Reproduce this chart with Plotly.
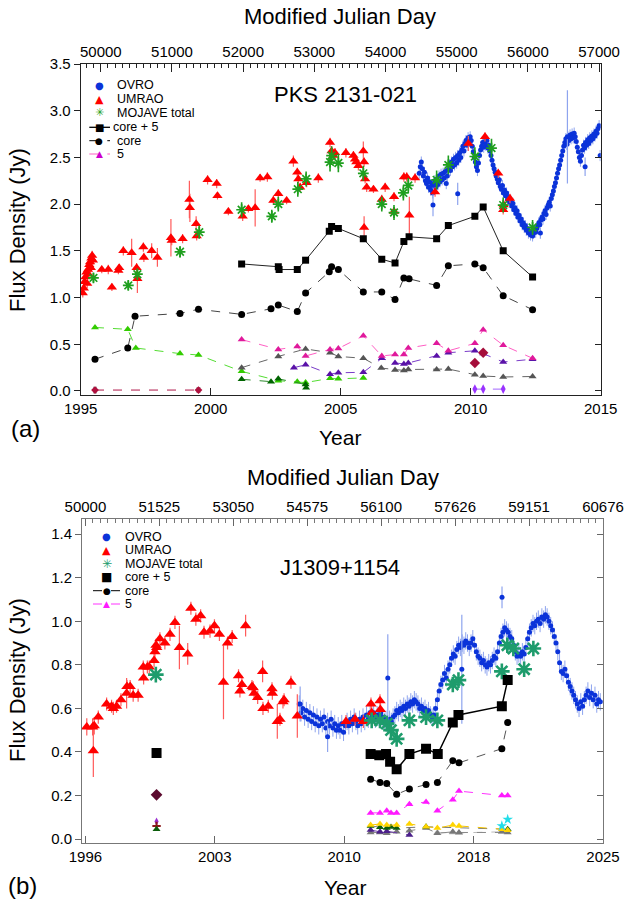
import plotly.graph_objects as go

W, H = 626, 902


def mjd_to_year(m):
    return 1995.773 + (m - 50000.0) / 365.25


def year_to_mjd(y):
    return 50000.0 + (y - 1995.773) * 365.25


# ======================= Panel (a): PKS 2131-021 =======================
a_ovro_year = [2008.02, 2008.06, 2008.10, 2008.14, 2008.18, 2008.22, 2008.26, 2008.30, 2008.34, 2008.38,
               2008.42, 2008.46, 2008.50, 2008.54, 2008.58, 2008.62, 2008.66, 2008.70, 2008.74, 2008.78,
               2008.82, 2008.86, 2008.90, 2008.94, 2008.98, 2009.02, 2009.06, 2009.10, 2009.14, 2009.18,
               2009.22, 2009.26, 2009.30, 2009.34, 2009.38, 2009.42, 2009.46, 2009.50, 2009.54, 2009.58,
               2009.62, 2009.66, 2009.70, 2009.74, 2009.78, 2009.82, 2009.86, 2009.90, 2009.94, 2009.98,
               2010.02, 2010.06, 2010.10, 2010.14, 2010.18, 2010.22, 2010.26, 2010.30, 2010.34, 2010.38,
               2010.42, 2010.46, 2010.50, 2010.54, 2010.58, 2010.62, 2010.66, 2010.70, 2010.74, 2010.78,
               2010.82, 2010.86, 2010.90, 2010.94, 2010.98, 2011.02, 2011.06, 2011.10, 2011.14, 2011.18,
               2011.22, 2011.26, 2011.30, 2011.34, 2011.38, 2011.42, 2011.46, 2011.50, 2011.54, 2011.58,
               2011.62, 2011.66, 2011.70, 2011.74, 2011.78, 2011.82, 2011.86, 2011.90, 2011.94, 2011.98,
               2012.02, 2012.06, 2012.10, 2012.14, 2012.18, 2012.22, 2012.26, 2012.30, 2012.34, 2012.38,
               2012.42, 2012.46, 2012.50, 2012.54, 2012.58, 2012.62, 2012.66, 2012.70, 2012.74, 2012.78,
               2012.82, 2012.86, 2012.90, 2012.94, 2012.98, 2013.02, 2013.06, 2013.10, 2013.14, 2013.18,
               2013.22, 2013.26, 2013.30, 2013.34, 2013.38, 2013.42, 2013.46, 2013.50, 2013.54, 2013.58,
               2013.62, 2013.66, 2013.70, 2013.74, 2013.78, 2013.82, 2013.86, 2013.90, 2013.94, 2013.98,
               2014.02, 2014.06, 2014.10, 2014.14, 2014.18, 2014.22, 2014.26, 2014.30, 2014.34, 2014.38,
               2014.42, 2014.46, 2014.50, 2014.54, 2014.58, 2014.62, 2014.66, 2014.70, 2014.74, 2014.78,
               2014.82, 2014.86, 2014.90, 2014.94, 2014.98]
a_ovro_flux = [2.33, 2.40, 2.45, 2.38, 2.30, 2.34, 2.25, 2.22, 2.28, 2.18,
               2.24, 2.15, 2.20, 2.12, 2.22, 2.25, 2.18, 2.27, 2.21, 2.30,
               2.24, 2.32, 2.26, 2.33, 2.28, 2.35, 2.22, 2.30, 2.37, 2.42,
               2.36, 2.45, 2.40, 2.48, 2.42, 2.50, 2.44, 2.52, 2.47, 2.55,
               2.50, 2.58, 2.62, 2.57, 2.65, 2.68, 2.63, 2.71, 2.67, 2.72,
               2.68, 2.62, 2.56, 2.50, 2.45, 2.40, 2.36, 2.44, 2.52, 2.58,
               2.62, 2.66, 2.61, 2.67, 2.63, 2.68, 2.60, 2.63, 2.57, 2.52,
               2.47, 2.42, 2.38, 2.34, 2.30, 2.27, 2.23, 2.26, 2.19, 2.16,
               2.20, 2.12, 2.15, 2.09, 2.12, 2.05, 2.08, 2.02, 2.04, 1.98,
               2.01, 1.94, 1.96, 1.90, 1.93, 1.86, 1.88, 1.82, 1.84, 1.78,
               1.80, 1.75, 1.77, 1.72, 1.74, 1.69, 1.71, 1.67, 1.70, 1.66,
               1.69, 1.72, 1.70, 1.74, 1.77, 1.80, 1.78, 1.83, 1.86, 1.84,
               1.90, 1.93, 1.89, 1.96, 1.99, 2.02, 1.98, 2.06, 2.10, 2.14,
               2.19, 2.23, 2.28, 2.33, 2.38, 2.42, 2.47, 2.52, 2.57, 2.62,
               2.66, 2.70, 2.64, 2.72, 2.68, 2.74, 2.70, 2.75, 2.71, 2.76,
               2.72, 2.67, 2.61, 2.56, 2.50, 2.46, 2.52, 2.58, 2.63, 2.60,
               2.66, 2.63, 2.69, 2.65, 2.71, 2.68, 2.73, 2.70, 2.75, 2.73,
               2.78, 2.76, 2.81, 2.84, 2.52]
a_ovro_out_year = [2008.55, 2009.50, 2012.68, 2013.72, 2014.40]
a_ovro_out_flux = [1.99, 2.11, 1.69, 2.72, 2.40]
a_ovro_out_err = [0.12, 0.12, 0.06, 0.50, 0.10]

a_umrao_year = [1995.08, 1995.12, 1995.15, 1995.18, 1995.22, 1995.25, 1995.28, 1995.30, 1995.33, 1995.36,
                1995.39, 1995.41, 1995.44, 1995.47, 1995.81, 1996.06, 1996.20, 1996.45, 1996.48, 1996.64,
                1996.96, 1997.15, 1997.18, 1997.41, 1997.43, 1997.73, 1997.95, 1998.47, 1998.50, 1998.92,
                1999.18, 1999.20, 1999.44, 1999.46, 1999.88, 2000.23, 2000.26, 2000.68, 2001.23, 2001.45,
                2001.71, 2001.90, 2002.18, 2002.41, 2002.60, 2002.92, 2003.18, 2003.33, 2003.37, 2003.44,
                2003.69, 2004.14, 2004.59, 2004.65, 2004.72, 2004.78, 2005.20, 2005.49, 2005.55, 2005.60,
                2005.68, 2005.87, 2005.90, 2005.94, 2006.00, 2006.26, 2006.58, 2006.71, 2005.90, 2007.05,
                2007.05, 2007.43, 2007.54, 2007.64, 2007.86, 2008.63, 2009.91, 2010.55, 2011.06, 2011.25,
                2011.27, 2011.51]
a_umrao_flux = [1.05, 1.10, 1.17, 1.22, 1.27, 1.15, 1.30, 1.25, 1.35, 1.38,
                1.32, 1.42, 1.45, 1.40, 1.30, 1.30, 1.11, 1.29, 1.32, 1.50,
                1.48, 1.32, 1.20, 1.54, 1.43, 1.50, 1.43, 1.64, 1.61, 1.63,
                2.05, 1.96, 1.79, 1.66, 2.26, 2.22, 2.09, 1.92, 1.87, 1.95,
                1.96, 2.28, 2.29, 2.04, 2.11, 2.04, 2.46, 2.34, 2.27, 2.18,
                2.23, 2.28, 2.66, 2.57, 2.52, 2.55, 2.55, 2.52, 2.48, 2.45,
                2.41, 2.57, 2.45, 2.27, 2.18, 2.16, 2.05, 2.18, 1.75, 2.08,
                1.92, 2.29, 2.29, 1.88, 2.28, 2.13, 2.65, 2.72, 2.33, 1.94,
                1.99, 2.06]
a_umrao_err = [0.05, 0.05, 0.06, 0.05, 0.05, 0.05, 0.05, 0.05, 0.05, 0.05,
               0.05, 0.05, 0.05, 0.05, 0.04, 0.05, 0.04, 0.04, 0.04, 0.05,
               0.15, 0.05, 0.15, 0.05, 0.05, 0.08, 0.10, 0.20, 0.05, 0.05,
               0.20, 0.15, 0.08, 0.05, 0.05, 0.05, 0.04, 0.04, 0.05, 0.04,
               0.20, 0.04, 0.05, 0.05, 0.05, 0.04, 0.06, 0.05, 0.05, 0.05,
               0.05, 0.05, 0.05, 0.05, 0.05, 0.05, 0.05, 0.05, 0.05, 0.05,
               0.05, 0.10, 0.05, 0.05, 0.05, 0.04, 0.05, 0.05, 0.12, 0.05,
               0.05, 0.05, 0.05, 0.20, 0.05, 0.05, 0.08, 0.05, 0.05, 0.05,
               0.05, 0.05]

a_mojave_year = [1995.49, 1996.83, 1997.18, 1998.82, 1999.56, 2001.19, 2002.35, 2002.60, 2003.35, 2003.67,
                 2004.59, 2004.65, 2004.91, 2005.87, 2006.58, 2007.05, 2007.41, 2007.60, 2008.69, 2009.14,
                 2010.16, 2010.80, 2011.25, 2012.38]
a_mojave_flux = [1.21, 1.13, 1.25, 1.49, 1.70, 1.94, 1.87, 2.00, 2.16, 2.27,
                 2.45, 2.52, 2.44, 2.33, 2.00, 1.91, 2.12, 2.20, 2.26, 2.42,
                 2.51, 2.60, 1.99, 1.75]
a_mojave_err = [0.05, 0.05, 0.06, 0.06, 0.07, 0.08, 0.07, 0.08, 0.08, 0.08,
                0.10, 0.10, 0.10, 0.08, 0.08, 0.08, 0.08, 0.08, 0.10, 0.10,
                0.10, 0.10, 0.08, 0.08]

a_core5_year = [2001.19, 2002.60, 2002.63, 2003.33, 2003.65, 2004.56, 2004.65, 2004.91, 2005.87, 2006.58,
                2007.09, 2007.43, 2007.63, 2008.69, 2009.14, 2010.16, 2010.48, 2011.25, 2012.38]
a_core5_flux = [1.36, 1.33, 1.30, 1.30, 1.40, 1.71, 1.76, 1.74, 1.63, 1.41,
                1.37, 1.60, 1.65, 1.63, 1.77, 1.87, 1.97, 1.50, 1.22]

a_core_year = [1995.55, 1996.81, 1997.09, 1998.82, 1999.53, 2001.19, 2002.32, 2002.60, 2003.33, 2003.65,
               2004.56, 2004.65, 2004.91, 2005.87, 2006.58, 2007.09, 2007.43, 2007.63, 2008.69, 2009.14,
               2010.16, 2010.48, 2011.25, 2012.38]
a_core_flux = [0.34, 0.46, 0.80, 0.83, 0.875, 0.82, 0.88, 0.92, 0.85, 1.05,
               1.275, 1.33, 1.30, 1.06, 1.06, 0.98, 1.21, 1.20, 1.13, 1.34,
               1.36, 1.32, 1.02, 0.87]

a_c5_year = [2001.19, 2002.60, 2003.33, 2003.65, 2004.59, 2004.91, 2005.87, 2006.58, 2007.09, 2007.43,
             2007.60, 2008.69, 2009.14, 2010.16, 2010.48, 2011.25, 2012.38]
a_c5_flux = [0.55, 0.445, 0.475, 0.375, 0.445, 0.455, 0.59, 0.375, 0.39, 0.39,
             0.46, 0.51, 0.43, 0.51, 0.655, 0.49, 0.35]

a_lime_year = [1995.55, 1996.81, 1997.12, 1998.82, 1999.53, 2001.19, 2002.60, 2003.33, 2003.65, 2004.59,
               2004.91, 2005.87]
a_lime_flux = [0.68, 0.66, 0.46, 0.40, 0.385, 0.21, 0.11, 0.10, 0.09, 0.135, 0.13, 0.14]

a_dkgreen_year = [2001.19, 2002.32, 2002.60, 2003.65, 2003.67]
a_dkgreen_flux = [0.125, 0.10, 0.13, 0.07, 0.035]

a_gray_year = [2001.19, 2002.60, 2003.65, 2004.59, 2004.91, 2005.87, 2006.56, 2007.09, 2007.43, 2007.60,
               2008.69, 2009.14, 2010.16, 2010.48, 2011.25, 2012.38]
a_gray_flux = [0.25, 0.37, 0.45, 0.41, 0.37, 0.35, 0.245, 0.225, 0.22, 0.23,
               0.23, 0.235, 0.175, 0.16, 0.15, 0.155]

a_purple_year = [2003.20, 2003.65, 2004.59, 2004.91, 2005.87, 2006.58, 2007.09, 2007.43, 2007.60, 2008.69,
                 2009.14, 2010.16, 2010.48, 2011.25, 2012.38]
a_purple_flux = [0.25, 0.28, 0.18, 0.195, 0.20, 0.35, 0.30, 0.29, 0.30, 0.375,
                 0.41, 0.43, 0.40, 0.31, 0.34]

a_crimson_year = [1995.55, 1999.53]
a_crimson_flux = [0.01, 0.01]
a_crimson_err = [0.03, 0.025]

a_dkred_year = [2010.16, 2010.48]
a_dkred_flux = [0.30, 0.41]

a_violet_year = [2010.16, 2010.48, 2011.25]
a_violet_flux = [0.02, 0.02, 0.02]

a_year_ticks = [1995, 2000, 2005, 2010, 2015]
a_mjd_ticks = [50000, 51000, 52000, 53000, 54000, 55000, 56000, 57000]
a_flux_ticks = [0.0, 0.5, 1.0, 1.5, 2.0, 2.5, 3.0, 3.5]

# ======================= Panel (b): J1309+1154 =======================
b_ovro_year = [2007.85, 2007.95, 2008.05, 2008.15, 2008.25, 2008.35, 2008.45, 2008.55, 2008.65, 2008.75,
               2008.85, 2008.95, 2009.05, 2009.15, 2009.25, 2009.35, 2009.45, 2009.55, 2009.65, 2009.75,
               2009.85, 2009.95, 2010.05, 2010.15, 2010.25, 2010.35, 2010.45, 2010.55, 2010.65, 2010.75,
               2010.85, 2010.95, 2011.05, 2011.15, 2011.25, 2011.35, 2011.45, 2011.55, 2011.65, 2011.75,
               2011.85, 2011.95, 2012.05, 2012.15, 2012.25, 2012.35, 2012.45, 2012.55, 2012.65, 2012.75,
               2012.85, 2012.95, 2013.05, 2013.15, 2013.25, 2013.35, 2013.45, 2013.55, 2013.65, 2013.75,
               2013.85, 2013.95, 2014.05, 2014.15, 2014.25, 2014.35, 2014.45, 2014.55, 2014.65, 2014.75,
               2014.85, 2014.95, 2015.05, 2015.15, 2015.25, 2015.35, 2015.45, 2015.55, 2015.65, 2015.75,
               2015.85, 2015.95, 2016.05, 2016.15, 2016.25, 2016.35, 2016.45, 2016.55, 2016.65, 2016.75,
               2016.85, 2016.95, 2017.05, 2017.15, 2017.25, 2017.35, 2017.45, 2017.55, 2017.65, 2017.75,
               2017.85, 2017.95, 2018.05, 2018.15, 2018.25, 2018.35, 2018.45, 2018.55, 2018.65, 2018.75,
               2018.85, 2018.95, 2019.05, 2019.15, 2019.25, 2019.35, 2019.45, 2019.55, 2019.65, 2019.75,
               2019.85, 2019.95, 2020.05, 2020.15, 2020.25, 2020.35, 2020.45, 2020.55, 2020.65, 2020.75,
               2020.85, 2020.95, 2021.05, 2021.15, 2021.25, 2021.35, 2021.45, 2021.55, 2021.65, 2021.75,
               2021.85, 2021.95, 2022.05, 2022.15, 2022.25, 2022.35, 2022.45, 2022.55, 2022.65, 2022.75,
               2022.85, 2022.95, 2023.05, 2023.15, 2023.25, 2023.35, 2023.45, 2023.55, 2023.65, 2023.75,
               2023.85, 2023.95, 2024.05, 2024.15, 2024.25, 2024.35, 2024.45, 2024.55, 2024.65, 2024.75,
               2024.85]
b_ovro_flux = [0.62, 0.58, 0.60, 0.56, 0.59, 0.55, 0.58, 0.54, 0.57, 0.53,
               0.56, 0.52, 0.55, 0.53, 0.56, 0.51, 0.54, 0.52, 0.55, 0.51,
               0.53, 0.50, 0.52, 0.50, 0.53, 0.49, 0.52, 0.54, 0.52, 0.55,
               0.53, 0.56, 0.54, 0.52, 0.55, 0.53, 0.56, 0.54, 0.57, 0.55,
               0.58, 0.56, 0.58, 0.55, 0.57, 0.56, 0.58, 0.56, 0.54, 0.55,
               0.53, 0.55, 0.54, 0.56, 0.57, 0.59, 0.58, 0.60, 0.59, 0.61,
               0.60, 0.62, 0.61, 0.63, 0.62, 0.64, 0.63, 0.62, 0.60, 0.61,
               0.59, 0.60, 0.58, 0.59, 0.57, 0.56, 0.57, 0.60, 0.64, 0.68,
               0.71, 0.73, 0.76, 0.74, 0.78, 0.80, 0.83, 0.85, 0.84, 0.87,
               0.89, 0.88, 0.90, 0.89, 0.91, 0.90, 0.88, 0.90, 0.92, 0.89,
               0.86, 0.84, 0.83, 0.81, 0.82, 0.80, 0.79, 0.81, 0.80, 0.82,
               0.84, 0.83, 0.86, 0.90, 0.93, 0.95, 0.97, 0.96, 0.95, 0.93,
               0.92, 0.89, 0.86, 0.84, 0.85, 0.84, 0.86, 0.85, 0.88, 0.92,
               0.95, 0.97, 0.99, 0.98, 1.00, 1.01, 0.99, 1.02, 1.01, 1.03,
               1.02, 1.00, 0.98, 0.96, 0.93, 0.90, 0.86, 0.81, 0.77, 0.76,
               0.78, 0.75, 0.72, 0.70, 0.68, 0.66, 0.64, 0.62, 0.60, 0.63,
               0.61, 0.64, 0.66, 0.68, 0.65, 0.67, 0.64, 0.66, 0.62, 0.64,
               0.63]
b_ovro_out_year = [2007.90, 2009.45, 2012.85, 2017.03, 2019.30]
b_ovro_out_flux = [0.62, 0.47, 0.74, 0.78, 1.11]
b_ovro_out_err = [0.08, 0.07, 0.20, 0.25, 0.05]

b_umrao_year = [1995.85, 1996.18, 1996.22, 1996.27, 1996.50, 1996.97, 1997.25, 1997.35, 1997.53, 1997.78,
                1998.10, 1998.12, 1998.30, 1998.47, 1998.75, 1999.04, 1999.06, 1999.27, 1999.38, 1999.65,
                1999.70, 1999.76, 1999.80, 1999.98, 2000.26, 2000.55, 2000.83, 2001.08, 2001.55, 2001.73,
                2002.01, 2002.28, 2002.47, 2002.81, 2003.06, 2003.34, 2003.57, 2003.80, 2004.06, 2004.42,
                2004.50, 2004.61, 2004.82, 2005.18, 2005.25, 2005.30, 2005.50, 2005.78, 2005.80, 2006.10,
                2006.31, 2006.33, 2006.61, 2006.76, 2006.93, 2006.99, 2007.38, 2007.74, 2010.49, 2011.00,
                2011.47, 2011.90, 2011.94, 2012.41, 2012.43]
b_umrao_flux = [0.515, 0.515, 0.405, 0.52, 0.56, 0.62, 0.61, 0.60, 0.61, 0.64,
                0.67, 0.70, 0.70, 0.66, 0.66, 0.79, 0.74, 0.79, 0.79, 0.82,
                0.86, 0.89, 0.88, 0.92, 0.90, 0.94, 0.995, 0.88, 0.85, 1.06,
                1.01, 1.025, 0.95, 0.955, 0.98, 0.94, 0.72, 0.90, 0.93, 0.75,
                0.68, 0.71, 0.98, 0.70, 0.695, 0.67, 0.65, 0.77, 0.60, 0.61,
                0.69, 0.67, 0.54, 0.55, 0.63, 0.64, 0.72, 0.565, 0.54, 0.55,
                0.54, 0.62, 0.58, 0.635, 0.595]
b_umrao_err = [0.04, 0.04, 0.12, 0.04, 0.03, 0.03, 0.03, 0.03, 0.03, 0.03,
               0.07, 0.03, 0.03, 0.03, 0.03, 0.03, 0.03, 0.03, 0.03, 0.03,
               0.03, 0.03, 0.03, 0.03, 0.03, 0.03, 0.03, 0.10, 0.05, 0.03,
               0.03, 0.03, 0.03, 0.03, 0.03, 0.03, 0.17, 0.03, 0.03, 0.03,
               0.03, 0.04, 0.05, 0.03, 0.03, 0.03, 0.03, 0.05, 0.03, 0.03,
               0.03, 0.03, 0.08, 0.03, 0.03, 0.03, 0.03, 0.10, 0.03, 0.03,
               0.03, 0.03, 0.03, 0.03, 0.03]

b_mojave_year = [1999.75, 2011.94, 2012.41, 2012.79, 2013.03, 2013.35, 2014.07, 2015.01, 2015.65, 2016.52,
                 2016.84, 2019.29, 2019.60, 2019.94, 2020.55, 2021.07]
b_mojave_flux = [0.755, 0.545, 0.545, 0.53, 0.50, 0.46, 0.545, 0.56, 0.545, 0.71,
                 0.73, 0.77, 0.89, 0.875, 0.78, 0.875]

b_core5_year = [2011.88, 2012.37, 2012.75, 2012.98, 2013.35, 2014.07, 2015.01, 2015.67, 2016.52, 2016.84,
                2019.29, 2019.62]
b_core5_flux = [0.39, 0.385, 0.39, 0.355, 0.32, 0.39, 0.415, 0.39, 0.535, 0.57, 0.61, 0.73]

b_core_year = [2011.88, 2012.41, 2012.79, 2013.35, 2014.07, 2015.01, 2015.65, 2016.52, 2016.87, 2019.29,
               2019.62]
b_core_flux = [0.275, 0.26, 0.255, 0.205, 0.23, 0.25, 0.26, 0.36, 0.35, 0.415, 0.535]

b_c5_year = [2011.88, 2012.41, 2012.79, 2013.03, 2013.35, 2014.07, 2015.01, 2015.65, 2016.52, 2016.87,
             2019.29, 2019.62]
b_c5_flux = [0.12, 0.12, 0.13, 0.12, 0.12, 0.16, 0.17, 0.13, 0.18, 0.22, 0.20, 0.20]

b_gold_year = [2011.88, 2012.41, 2012.79, 2013.35, 2014.07, 2015.01, 2015.65, 2016.52, 2016.87, 2019.29,
               2019.62]
b_gold_flux = [0.064, 0.069, 0.064, 0.064, 0.069, 0.056, 0.05, 0.064, 0.06, 0.045, 0.04]

b_dkgreen_year = [2011.88, 2012.41, 2012.79, 2013.03, 2013.35, 2015.01, 2019.62]
b_dkgreen_flux = [0.06, 0.054, 0.05, 0.055, 0.05, 0.056, 0.045]

b_gray_year = [2011.88, 2012.41, 2012.79, 2013.35, 2014.07, 2015.01, 2015.65, 2016.52, 2016.87, 2019.29,
               2019.62]
b_gray_flux = [0.03, 0.03, 0.026, 0.033, 0.038, 0.05, 0.026, 0.033, 0.03, 0.033, 0.03]

b_purple_year = [2011.88, 2012.41, 2012.79, 2014.07]
b_purple_flux = [0.041, 0.033, 0.036, 0.018]

b_ltgray_year = [2015.65, 2016.52, 2016.87, 2019.29]
b_ltgray_flux = [0.03, 0.03, 0.028, 0.033]

b_cyan_year = [2019.29, 2019.62]
b_cyan_flux = [0.06, 0.09]

# single early VLBA epoch (2000)
b_early_year = [1999.79]
b_early_core5 = [0.395]
b_early_maroon = [0.203]
b_early_violet = [0.08]
b_early_red = [0.06]
b_early_green = [0.045]

b_mjd_ticks = [50000, 51525, 53050, 54575, 56100, 57626, 59151, 60676]
b_year_tick_mjd = [50000, 52669, 55338, 58007, 60676]
b_year_labels = ["1996", "2003", "2010", "2018", "2025"]
b_flux_ticks = [0.0, 0.2, 0.4, 0.6, 0.8, 1.0, 1.2, 1.4]

# ======================= styling =======================
FONT = "Liberation Sans"
OVRO_BLUE = "#0b33d9"
OVRO_ERR = "#8ea4ee"
RED = "#ff0000"
RED_ERR = "#ff5a5a"
GREEN_A = "#1f9f1f"
GREEN_B = "#1e9c6c"

fig = go.Figure()


def add(x, y, xa, ya, **kw):
    fig.add_trace(go.Scatter(x=x, y=y, xaxis=xa, yaxis=ya, showlegend=False,
                             hoverinfo="skip", **kw))


def comp(x, y, xa, ya, mcolor, lcolor, symbol="triangle-up", size=7, dash="dash", mode="lines+markers"):
    add(x, y, xa, ya, mode=mode,
        line=dict(color=lcolor, width=1, dash=dash),
        marker=dict(symbol=symbol, size=size, color=mcolor, line=dict(width=0)))


# ---- panel (a) ----
add(a_ovro_year, a_ovro_flux, "x", "y", mode="markers",
    marker=dict(symbol="circle", size=5, color=OVRO_BLUE),
    error_y=dict(type="constant", value=0.06, color=OVRO_ERR, thickness=1, width=0))
add(a_ovro_out_year, a_ovro_out_flux, "x", "y", mode="markers",
    marker=dict(symbol="circle", size=5, color=OVRO_BLUE),
    error_y=dict(type="data", array=a_ovro_out_err, color=OVRO_ERR, thickness=1.2, width=0))
add(a_umrao_year, a_umrao_flux, "x", "y", mode="markers",
    marker=dict(symbol="triangle-up", size=9, color=RED),
    error_y=dict(type="data", array=a_umrao_err, color=RED_ERR, thickness=1.2, width=0))
add(a_mojave_year, a_mojave_flux, "x", "y", mode="markers",
    marker=dict(symbol="asterisk", size=9, color=GREEN_A, line=dict(color=GREEN_A, width=1.7)),
    error_y=dict(type="data", array=a_mojave_err, color=GREEN_A, thickness=1.6, width=0))

comp(a_lime_year, a_lime_flux, "x", "y", "#33cc00", "#55dd33")
comp(a_dkgreen_year, a_dkgreen_flux, "x", "y", "#006400", "#2e8b2e")
comp(a_gray_year, a_gray_flux, "x", "y", "#555555", "#666666")
comp(a_purple_year, a_purple_flux, "x", "y", "#5a12a8", "#7a3cc8")
comp(a_c5_year, a_c5_flux, "x", "y", "#e0199c", "#ff5fc4")
add(a_crimson_year, a_crimson_flux, "x", "y", mode="lines+markers",
    line=dict(color="#b0184a", width=1, dash="dash"),
    marker=dict(symbol="diamond", size=6, color="#b0103e"),
    error_y=dict(type="data", array=a_crimson_err, color="#888888", thickness=1, width=2))
add(a_dkred_year, a_dkred_flux, "x", "y", mode="markers",
    marker=dict(symbol="diamond", size=8, color="#a50d3a"))
comp(a_violet_year, a_violet_flux, "x", "y", "#9933ff", "#a366ff", symbol="diamond-tall", size=7)

add(a_core_year, a_core_flux, "x", "y", mode="lines+markers",
    line=dict(color="#444444", width=1, dash="dash"),
    marker=dict(symbol="circle", size=7, color="black"))
add(a_core5_year, a_core5_flux, "x", "y", mode="lines+markers",
    line=dict(color="#222222", width=1),
    marker=dict(symbol="square", size=7, color="black"))
# carriers for the extra (mark-free) axes: top MJD scale, right-hand tick marks
add([], [], "x3", "y", mode="markers")
add([], [], "x", "y3", mode="markers")

# ---- panel (b) ----
add(b_ovro_year, b_ovro_flux, "x2", "y2", mode="markers",
    marker=dict(symbol="circle", size=5, color=OVRO_BLUE),
    error_y=dict(type="constant", value=0.04, color=OVRO_ERR, thickness=1, width=0))
add(b_ovro_out_year, b_ovro_out_flux, "x2", "y2", mode="markers",
    marker=dict(symbol="circle", size=5, color=OVRO_BLUE),
    error_y=dict(type="data", array=b_ovro_out_err, color=OVRO_ERR, thickness=1.2, width=0))
add(b_umrao_year, b_umrao_flux, "x2", "y2", mode="markers",
    marker=dict(symbol="triangle-up", size=10, color=RED),
    error_y=dict(type="data", array=b_umrao_err, color=RED_ERR, thickness=1.2, width=0))
add(b_mojave_year, b_mojave_flux, "x2", "y2", mode="markers",
    marker=dict(symbol="asterisk", size=13, color=GREEN_B, line=dict(color=GREEN_B, width=2.6)))

comp(b_ltgray_year, b_ltgray_flux, "x2", "y2", "#bbbbbb", "#bbbbbb")
comp(b_gray_year, b_gray_flux, "x2", "y2", "#777777", "#888888")
comp(b_purple_year, b_purple_flux, "x2", "y2", "#4b1f8a", "#6a3aa8")
comp(b_dkgreen_year, b_dkgreen_flux, "x2", "y2", "#0b5d0b", "#777777")
comp(b_gold_year, b_gold_flux, "x2", "y2", "#ffd400", "#f5c400")
comp(b_cyan_year, b_cyan_flux, "x2", "y2", "#22dde8", "#22dde8", symbol="star", size=8, mode="markers")
comp(b_c5_year, b_c5_flux, "x2", "y2", "#ff19ff", "#ff33ff")
add(b_core_year, b_core_flux, "x2", "y2", mode="lines+markers",
    line=dict(color="#555555", width=1, dash="dash"),
    marker=dict(symbol="circle", size=7, color="black"))
add(b_core5_year, b_core5_flux, "x2", "y2", mode="lines+markers",
    line=dict(color="black", width=1.5),
    marker=dict(symbol="square", size=10, color="black"))

add(b_early_year, b_early_core5, "x2", "y2", mode="markers",
    marker=dict(symbol="square", size=10, color="black"))
add(b_early_year, b_early_maroon, "x2", "y2", mode="markers",
    marker=dict(symbol="diamond", size=9, color="#5c0a2e"))
add(b_early_year, b_early_violet, "x2", "y2", mode="markers",
    marker=dict(symbol="diamond-tall", size=6, color="#9b30d0"))
add(b_early_year, b_early_red, "x2", "y2", mode="markers",
    marker=dict(symbol="cross-thin", size=6, color="#8b1a1a", line=dict(color="#8b1a1a", width=2)))
add(b_early_year, b_early_green, "x2", "y2", mode="markers",
    marker=dict(symbol="triangle-up", size=7, color="#0b5d0b"))
add([], [], "x4", "y2", mode="markers")
add([], [], "x2", "y4", mode="markers")

# ======================= layout =======================
def fx(px):
    return px / W


def fy(py):
    return 1 - py / H


A_L, A_R, A_T, A_B = 80.7, 600.7, 64.0, 395.0
B_L, B_R, B_T, B_B = 82.0, 603.3, 519.0, 842.7
A_YR = [-0.043, 3.5]
B_YR = [-0.017, 1.47]

tickfont = dict(family=FONT, size=15, color="black")
axis_common = dict(showgrid=False, zeroline=False, showline=True, linewidth=1, automargin=False,
                   tickfont=tickfont)

fig.update_layout(
    width=W, height=H, margin=dict(l=0, r=0, t=0, b=0),
    paper_bgcolor="white", plot_bgcolor="white", showlegend=False,
    xaxis=dict(domain=[fx(A_L), fx(A_R)], anchor="y", range=[1995, 2015],
               tickmode="array", tickvals=a_year_ticks, ticktext=[str(v) for v in a_year_ticks],
               ticks="inside", ticklen=7, tickcolor="#222222", linecolor="#222222", **axis_common),
    xaxis3=dict(overlaying="x", side="top", anchor="y",
                range=[year_to_mjd(1995), year_to_mjd(2015)],
                tickmode="array", tickvals=a_mjd_ticks, ticktext=[str(v) for v in a_mjd_ticks],
                ticks="inside", ticklen=8, tickcolor="#222222", linecolor="#222222",
                minor=dict(tick0=50000, dtick=100, ticks="inside", ticklen=4, tickcolor="#222222"),
                **axis_common),
    yaxis=dict(domain=[fy(A_B), fy(A_T)], anchor="x", range=A_YR,
               tickmode="array", tickvals=a_flux_ticks, ticktext=["%.1f" % v for v in a_flux_ticks],
               ticks="outside", ticklen=6, tickcolor="#222222", linecolor="#222222",
               **axis_common),
    yaxis3=dict(overlaying="y", side="right", anchor="x", range=A_YR,
                tickmode="array", tickvals=a_flux_ticks, showticklabels=False,
                ticks="inside", ticklen=6, tickcolor="#222222", linecolor="#222222",
                showgrid=False, zeroline=False, showline=True, linewidth=1),
    xaxis2=dict(domain=[fx(B_L), fx(B_R)], anchor="y2", range=[1995.58, 2025.02],
                tickmode="array", tickvals=[mjd_to_year(m) for m in b_year_tick_mjd],
                ticktext=b_year_labels,
                ticks="inside", ticklen=7, tickcolor="#666666", linecolor="#777777", **axis_common),
    xaxis4=dict(overlaying="x2", side="top", anchor="y2",
                range=[year_to_mjd(1995.58), year_to_mjd(2025.02)],
                tickmode="array", tickvals=b_mjd_ticks, ticktext=[str(v) for v in b_mjd_ticks],
                ticks="inside", ticklen=7, tickcolor="#666666", linecolor="#777777",
                minor=dict(tick0=50000, dtick=152.57, ticks="inside", ticklen=4, tickcolor="#777777"),
                **axis_common),
    yaxis2=dict(domain=[fy(B_B), fy(B_T)], anchor="x2", range=B_YR,
                tickmode="array", tickvals=b_flux_ticks, ticktext=["%.1f" % v for v in b_flux_ticks],
                ticks="outside", ticklen=6, tickcolor="#666666", linecolor="#777777",
                **axis_common),
    yaxis4=dict(overlaying="y2", side="right", anchor="x2", range=B_YR,
                tickmode="array", tickvals=b_flux_ticks, showticklabels=False,
                ticks="inside", ticklen=6, tickcolor="#666666", linecolor="#777777",
                showgrid=False, zeroline=False, showline=True, linewidth=1),
)

annotations = []
shapes = []


def text(x, y, s, size, anchor="center", angle=0, family=FONT, color="black"):
    annotations.append(dict(x=fx(x), y=fy(y), xref="paper", yref="paper", text=s, showarrow=False,
                            xanchor=anchor, yanchor="middle", textangle=angle,
                            font=dict(family=family, size=size, color=color)))


# titles
text(340, 17, "Modified Julian Day", 22)
text(340, 437, "Year", 21)
text(25, 428, "(a)", 24)
text(17, 230, "Flux Density (Jy)", 22, angle=-90)
text(345, 94, "PKS 2131-021", 22)

text(343, 477, "Modified Julian Day", 22)
text(345, 887, "Year", 21)
text(22, 885, "(b)", 24)
text(17, 680, "Flux Density (Jy)", 22, angle=-90)
text(340, 567, "J1309+1154", 22)


def key_line(x0, x1, y, color, dash, width=1):
    shapes.append(dict(type="line", xref="paper", yref="paper", x0=fx(x0), x1=fx(x1),
                       y0=fy(y), y1=fy(y), line=dict(color=color, width=width, dash=dash)))


GL = "DejaVu Sans"
# legend (a)
ax, at = 99.3, 115
rows_a = [85, 99.3, 112.7, 127.3, 140.7, 154]
text(ax, rows_a[0], "\u25cf", 10, family=GL, color=OVRO_BLUE)
text(at, rows_a[0], "OVRO", 12.5, anchor="left")
text(ax, rows_a[1], "\u25b2", 11, family=GL, color=RED)
text(at, rows_a[1], "UMRAO", 12.5, anchor="left")
text(ax, rows_a[2], "\u2733", 11, family=GL, color=GREEN_A)
text(at, rows_a[2], "MOJAVE total", 12.5, anchor="left")
key_line(89.3, 110, rows_a[3], "black", "solid", 1.3)
text(ax, rows_a[3], "\u25a0", 10, family=GL, color="black")
text(110.7, rows_a[3], "core + 5", 12.5, anchor="left")
key_line(89.3, 110, rows_a[4], "black", "dash")
text(ax, rows_a[4], "\u25cf", 9, family=GL, color="black")
text(at, rows_a[4], "core", 12.5, anchor="left")
key_line(89.3, 110, rows_a[5], "#ff5fc4", "dash")
text(ax, rows_a[5], "\u25b2", 9, family=GL, color="#cc00cc")
text(at, rows_a[5], "5", 12.5, anchor="left")

# legend (b)
bx, bt = 106.7, 123.3
rows_b = [536.5, 550, 563.5, 577, 590.7, 604]
text(bx, rows_b[0], "\u25cf", 10, family=GL, color=OVRO_BLUE)
text(bt, rows_b[0], "OVRO", 12.5, anchor="left")
text(bx, rows_b[1], "\u25b2", 11, family=GL, color=RED)
text(bt, rows_b[1], "UMRAO", 12.5, anchor="left")
text(bx, rows_b[2], "\u2733", 12, family=GL, color=GREEN_B)
text(bt, rows_b[2], "MOJAVE total", 12.5, anchor="left")
text(bx, rows_b[3], "\u25a0", 12, family=GL, color="black")
text(bt, rows_b[3], "core + 5", 12.5, anchor="left")
key_line(93, 120, rows_b[4], "black", "dash")
text(bx, rows_b[4], "\u25cf", 9, family=GL, color="black")
text(bt, rows_b[4], "core", 12.5, anchor="left")
key_line(93, 120, rows_b[5], "#ff33ff", "dash")
text(bx, rows_b[5], "\u25b2", 9, family=GL, color="#ff19ff")
text(bt, rows_b[5], "5", 12.5, anchor="left")

fig.update_layout(annotations=annotations, shapes=shapes)

fig.write_html("out.html")
